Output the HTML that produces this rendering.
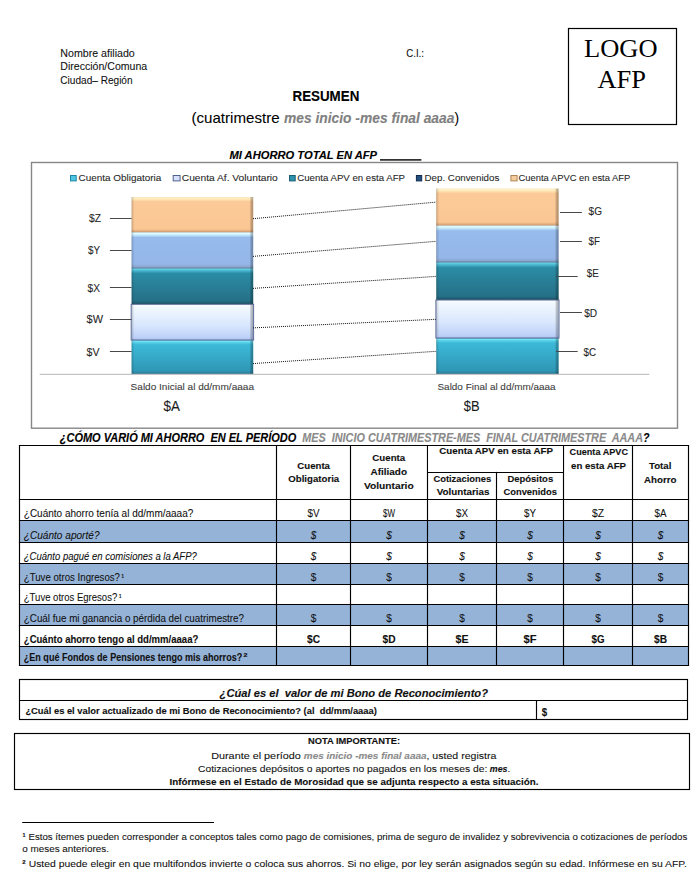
<!DOCTYPE html>
<html lang="es"><head><meta charset="utf-8"><title>Resumen AFP</title>
<style>
html,body{margin:0;padding:0;background:#fff;}
body{width:700px;height:885px;overflow:hidden;}
svg{display:block;font-family:"Liberation Sans", sans-serif;}
text{white-space:pre;}
</style></head><body>
<svg width="700" height="885" viewBox="0 0 700 885">
<defs>
<linearGradient id="gOr" x1="0" y1="0" x2="0" y2="1"><stop offset="0" stop-color="#f4dcb4"/><stop offset="0.025" stop-color="#fff0c6"/><stop offset="0.07" stop-color="#ffe4b4"/><stop offset="0.13" stop-color="#fcca98"/><stop offset="0.9" stop-color="#fac794"/><stop offset="0.96" stop-color="#e3ad7e"/><stop offset="1" stop-color="#b98b64"/></linearGradient>
<linearGradient id="gBl" x1="0" y1="0" x2="0" y2="1"><stop offset="0" stop-color="#b8e0f4"/><stop offset="0.025" stop-color="#e2fcff"/><stop offset="0.07" stop-color="#c6eafb"/><stop offset="0.14" stop-color="#97bbed"/><stop offset="0.88" stop-color="#94b6e8"/><stop offset="0.95" stop-color="#8ea8d2"/><stop offset="1" stop-color="#5f7fa6"/></linearGradient>
<linearGradient id="gTe" x1="0" y1="0" x2="0" y2="1"><stop offset="0" stop-color="#3a8096"/><stop offset="0.025" stop-color="#5ed0e8"/><stop offset="0.07" stop-color="#48b4ce"/><stop offset="0.14" stop-color="#2b8ca5"/><stop offset="0.9" stop-color="#257087"/><stop offset="0.96" stop-color="#1f5e71"/><stop offset="1" stop-color="#1a4b5b"/></linearGradient>
<linearGradient id="gWh" x1="0" y1="0" x2="0" y2="1"><stop offset="0" stop-color="#fafdff"/><stop offset="0.12" stop-color="#f0f7ff"/><stop offset="0.6" stop-color="#d8e6fd"/><stop offset="0.92" stop-color="#bed2f8"/><stop offset="1" stop-color="#aec2ee"/></linearGradient>
<linearGradient id="gCy" x1="0" y1="0" x2="0" y2="1"><stop offset="0" stop-color="#4a98b8"/><stop offset="0.025" stop-color="#7ef0fb"/><stop offset="0.07" stop-color="#5ad2ea"/><stop offset="0.14" stop-color="#3cb9d8"/><stop offset="0.9" stop-color="#2f97b5"/><stop offset="0.96" stop-color="#2a82a0"/><stop offset="1" stop-color="#226a80"/></linearGradient>
<linearGradient id="gSide" x1="0" y1="0" x2="1" y2="0"><stop offset="0" stop-color="#000" stop-opacity="0.26"/><stop offset="0.009" stop-color="#000" stop-opacity="0.1"/><stop offset="0.025" stop-color="#000" stop-opacity="0"/><stop offset="0.97" stop-color="#000" stop-opacity="0"/><stop offset="0.982" stop-color="#000" stop-opacity="0.2"/><stop offset="1" stop-color="#000" stop-opacity="0.3"/></linearGradient>
</defs>
<text x="60.30" y="57.30" font-size="10.2" fill="#111" stroke="#111" stroke-width="0.08" textLength="74.50" lengthAdjust="spacingAndGlyphs">Nombre afiliado</text>
<text x="60.30" y="70.40" font-size="10.2" fill="#111" stroke="#111" stroke-width="0.08" textLength="86.90" lengthAdjust="spacingAndGlyphs">Dirección/Comuna</text>
<text x="60.30" y="84.00" font-size="10.2" fill="#111" stroke="#111" stroke-width="0.08" textLength="72.30" lengthAdjust="spacingAndGlyphs">Ciudad– Región</text>
<text x="406.20" y="57.00" font-size="10.2" fill="#111" stroke="#111" stroke-width="0.08" textLength="17.80" lengthAdjust="spacingAndGlyphs">C.I.:</text>
<rect x="568.5" y="28.5" width="108" height="96" fill="none" stroke="#000" stroke-width="1.2" />
<text x="584.00" y="56.50" font-size="24.5" font-family="Liberation Serif" textLength="73.50" lengthAdjust="spacingAndGlyphs">LOGO</text>
<text x="597.50" y="87.90" font-size="24.5" font-family="Liberation Serif" textLength="48.50" lengthAdjust="spacingAndGlyphs">AFP</text>
<text x="292.50" y="101.20" font-size="13.8" font-weight="bold" stroke="#000" stroke-width="0.12" textLength="66.80" lengthAdjust="spacingAndGlyphs">RESUMEN</text>
<text x="191.50" y="123.00" font-size="14.6" stroke="#000" stroke-width="0.08" textLength="88.10" lengthAdjust="spacingAndGlyphs">(cuatrimestre</text>
<text x="284.00" y="123.00" font-size="14.6" font-weight="bold" font-style="italic" fill="#808080" stroke="#808080" stroke-width="0.12" textLength="170.40" lengthAdjust="spacingAndGlyphs">mes inicio -mes final aaaa</text>
<text x="454.40" y="123.00" font-size="14.6" stroke="#000" stroke-width="0.08" textLength="4.60" lengthAdjust="spacingAndGlyphs">)</text>
<text x="229.50" y="158.90" font-size="11.0" font-weight="bold" font-style="italic" stroke="#000" stroke-width="0.12" textLength="147.50" lengthAdjust="spacingAndGlyphs">MI AHORRO TOTAL EN AFP</text>
<rect x="380.0" y="159.2" width="41.4" height="1.4" fill="#000" stroke="none" stroke-width="1" />
<rect x="31.5" y="162.5" width="646" height="265.7" fill="#fff" stroke="#878787" stroke-width="1.4" />
<rect x="70.5" y="175.5" width="5.7" height="5.4" fill="#4cc6e2" stroke="#1f86a6" stroke-width="1.0" />
<text x="78.50" y="180.70" font-size="9.6" fill="#262626" stroke="#262626" stroke-width="0.08" textLength="82.80" lengthAdjust="spacingAndGlyphs">Cuenta Obligatoria</text>
<rect x="173.2" y="175.5" width="6.9" height="5.4" fill="#d6e0fc" stroke="#52628c" stroke-width="1.0" />
<text x="181.80" y="180.70" font-size="9.6" fill="#262626" stroke="#262626" stroke-width="0.08" textLength="96.00" lengthAdjust="spacingAndGlyphs">Cuenta Af. Voluntario</text>
<rect x="289.5" y="175.5" width="5.7" height="5.4" fill="#2f92ad" stroke="#1a5f75" stroke-width="1.0" />
<text x="297.20" y="180.70" font-size="9.6" fill="#262626" stroke="#262626" stroke-width="0.08" textLength="107.80" lengthAdjust="spacingAndGlyphs">Cuenta APV en esta AFP</text>
<rect x="416.4" y="175.5" width="5.3" height="5.4" fill="#24507f" stroke="#0f2850" stroke-width="1.0" />
<text x="424.60" y="180.70" font-size="9.6" fill="#262626" stroke="#262626" stroke-width="0.08" textLength="74.70" lengthAdjust="spacingAndGlyphs">Dep. Convenidos</text>
<rect x="510.9" y="175.5" width="6.2" height="5.4" fill="#f6cc9c" stroke="#b08658" stroke-width="1.0" />
<text x="518.50" y="180.70" font-size="9.6" fill="#262626" stroke="#262626" stroke-width="0.08" textLength="111.80" lengthAdjust="spacingAndGlyphs">Cuenta APVC en esta AFP</text>
<rect x="131.6" y="197.0" width="121.6" height="35.5" fill="url(#gOr)" stroke="none" stroke-width="1" />
<rect x="131.6" y="232.5" width="121.6" height="35.80000000000001" fill="url(#gBl)" stroke="none" stroke-width="1" />
<rect x="131.6" y="268.3" width="121.6" height="36.0" fill="url(#gTe)" stroke="none" stroke-width="1" />
<rect x="131.6" y="304.3" width="121.6" height="35.69999999999999" fill="url(#gWh)" stroke="none" stroke-width="1" />
<rect x="131.6" y="340.0" width="121.6" height="34.30000000000001" fill="url(#gCy)" stroke="none" stroke-width="1" />
<rect x="131.6" y="197.0" width="121.6" height="177.3" fill="url(#gSide)" stroke="none" stroke-width="1" />
<rect x="131.2" y="304.3" width="122.39999999999999" height="35.69999999999999" fill="none" stroke="#5a6a98" stroke-width="1.0" />
<rect x="436.3" y="188.6" width="122.30000000000001" height="37.099999999999994" fill="url(#gOr)" stroke="none" stroke-width="1" />
<rect x="436.3" y="225.7" width="122.30000000000001" height="36.60000000000002" fill="url(#gBl)" stroke="none" stroke-width="1" />
<rect x="436.3" y="262.3" width="122.30000000000001" height="37.69999999999999" fill="url(#gTe)" stroke="none" stroke-width="1" />
<rect x="436.3" y="300.0" width="122.30000000000001" height="38.0" fill="url(#gWh)" stroke="none" stroke-width="1" />
<rect x="436.3" y="338.0" width="122.30000000000001" height="36.30000000000001" fill="url(#gCy)" stroke="none" stroke-width="1" />
<rect x="436.3" y="188.6" width="122.30000000000001" height="185.70000000000002" fill="url(#gSide)" stroke="none" stroke-width="1" />
<rect x="435.90000000000003" y="300.0" width="123.10000000000001" height="38.0" fill="none" stroke="#5a6a98" stroke-width="1.0" />
<line x1="39.7" y1="374.4" x2="649.3" y2="374.4" stroke="#c4c4c4" stroke-width="1.2" />
<line x1="253" y1="218.7" x2="436.3" y2="202.1" stroke="#111" stroke-width="1" stroke-dasharray="1 1"/>
<line x1="253" y1="256.4" x2="436.3" y2="241.3" stroke="#111" stroke-width="1" stroke-dasharray="1 1"/>
<line x1="253" y1="288.4" x2="436.3" y2="276.4" stroke="#111" stroke-width="1" stroke-dasharray="1 1"/>
<line x1="253" y1="327.9" x2="436.3" y2="319.3" stroke="#111" stroke-width="1" stroke-dasharray="1 1"/>
<line x1="253" y1="363.6" x2="436.3" y2="351.3" stroke="#111" stroke-width="1" stroke-dasharray="1 1"/>
<line x1="109.9" y1="218.5" x2="131.6" y2="218.5" stroke="#484848" stroke-width="1.0" />
<text x="89.00" y="222.10" font-size="10.3" fill="#262626" stroke="#262626" stroke-width="0.08" textLength="12.00" lengthAdjust="spacingAndGlyphs">$Z</text>
<line x1="109.9" y1="250.5" x2="131.6" y2="250.5" stroke="#484848" stroke-width="1.0" />
<text x="88.00" y="254.40" font-size="10.3" fill="#262626" stroke="#262626" stroke-width="0.08" textLength="12.00" lengthAdjust="spacingAndGlyphs">$Y</text>
<line x1="109.9" y1="287.5" x2="131.6" y2="287.5" stroke="#484848" stroke-width="1.0" />
<text x="87.60" y="291.70" font-size="10.3" fill="#262626" stroke="#262626" stroke-width="0.08" textLength="12.40" lengthAdjust="spacingAndGlyphs">$X</text>
<line x1="109.9" y1="319.5" x2="131.6" y2="319.5" stroke="#484848" stroke-width="1.0" />
<text x="86.60" y="323.40" font-size="10.3" fill="#262626" stroke="#262626" stroke-width="0.08" textLength="16.40" lengthAdjust="spacingAndGlyphs">$W</text>
<line x1="109.9" y1="351.5" x2="131.6" y2="351.5" stroke="#484848" stroke-width="1.0" />
<text x="86.60" y="355.70" font-size="10.3" fill="#262626" stroke="#262626" stroke-width="0.08" textLength="12.90" lengthAdjust="spacingAndGlyphs">$V</text>
<line x1="560.0" y1="212.5" x2="581.9" y2="212.5" stroke="#484848" stroke-width="1.0" />
<text x="588.60" y="214.90" font-size="10.3" fill="#262626" stroke="#262626" stroke-width="0.08" textLength="13.40" lengthAdjust="spacingAndGlyphs">$G</text>
<line x1="560.0" y1="241.5" x2="581.9" y2="241.5" stroke="#484848" stroke-width="1.0" />
<text x="588.50" y="244.80" font-size="10.3" fill="#262626" stroke="#262626" stroke-width="0.08" textLength="11.50" lengthAdjust="spacingAndGlyphs">$F</text>
<line x1="556.0" y1="276.5" x2="577.7" y2="276.5" stroke="#484848" stroke-width="1.0" />
<text x="586.70" y="277.10" font-size="10.3" fill="#262626" stroke="#262626" stroke-width="0.08" textLength="12.00" lengthAdjust="spacingAndGlyphs">$E</text>
<line x1="560.0" y1="312.5" x2="581.9" y2="312.5" stroke="#484848" stroke-width="1.0" />
<text x="584.20" y="316.90" font-size="10.3" fill="#262626" stroke="#262626" stroke-width="0.08" textLength="13.00" lengthAdjust="spacingAndGlyphs">$D</text>
<line x1="556.0" y1="351.5" x2="577.7" y2="351.5" stroke="#484848" stroke-width="1.0" />
<text x="583.60" y="355.90" font-size="10.3" fill="#262626" stroke="#262626" stroke-width="0.08" textLength="12.60" lengthAdjust="spacingAndGlyphs">$C</text>
<text x="130.60" y="390.10" font-size="9.6" fill="#3c3c3c" stroke="#3c3c3c" stroke-width="0.08" textLength="123.40" lengthAdjust="spacingAndGlyphs">Saldo Inicial al dd/mm/aaaa</text>
<text x="437.50" y="390.10" font-size="9.6" fill="#3c3c3c" stroke="#3c3c3c" stroke-width="0.08" textLength="118.00" lengthAdjust="spacingAndGlyphs">Saldo Final al dd/mm/aaaa</text>
<text x="163.60" y="410.80" font-size="15.4" fill="#1a1a1a" stroke="#1a1a1a" stroke-width="0.08" textLength="16.40" lengthAdjust="spacingAndGlyphs">$A</text>
<text x="463.80" y="410.80" font-size="15.4" fill="#1a1a1a" stroke="#1a1a1a" stroke-width="0.08" textLength="15.80" lengthAdjust="spacingAndGlyphs">$B</text>
<text x="59.80" y="441.80" font-size="12.4" font-weight="bold" font-style="italic" stroke="#000" stroke-width="0.12" textLength="236.50" lengthAdjust="spacingAndGlyphs">¿CÓMO VARIÓ MI AHORRO  EN EL PERÍODO</text>
<text x="302.30" y="441.80" font-size="12.4" font-weight="bold" font-style="italic" fill="#8a8a8a" stroke="#8a8a8a" stroke-width="0.12" textLength="340.70" lengthAdjust="spacingAndGlyphs">MES  INICIO CUATRIMESTRE-MES  FINAL CUATRIMESTRE  AAAA</text>
<text x="643.00" y="441.80" font-size="12.4" font-weight="bold" font-style="italic" stroke="#000" stroke-width="0.12" textLength="6.50" lengthAdjust="spacingAndGlyphs">?</text>
<rect x="19.5" y="520.5" width="669.0" height="22.0" fill="#95b3d7" stroke="none" stroke-width="1" />
<rect x="19.5" y="563.5" width="669.0" height="21.0" fill="#95b3d7" stroke="none" stroke-width="1" />
<rect x="19.5" y="604.5" width="669.0" height="21.0" fill="#95b3d7" stroke="none" stroke-width="1" />
<rect x="19.5" y="646.5" width="669.0" height="19.0" fill="#95b3d7" stroke="none" stroke-width="1" />
<line x1="18.925" y1="445.5" x2="689.075" y2="445.5" stroke="#000" stroke-width="1.15" />
<line x1="18.925" y1="499.5" x2="689.075" y2="499.5" stroke="#000" stroke-width="1.15" />
<line x1="18.925" y1="520.5" x2="689.075" y2="520.5" stroke="#000" stroke-width="1.15" />
<line x1="18.925" y1="542.5" x2="689.075" y2="542.5" stroke="#000" stroke-width="1.15" />
<line x1="18.925" y1="563.5" x2="689.075" y2="563.5" stroke="#000" stroke-width="1.15" />
<line x1="18.925" y1="584.5" x2="689.075" y2="584.5" stroke="#000" stroke-width="1.15" />
<line x1="18.925" y1="604.5" x2="689.075" y2="604.5" stroke="#000" stroke-width="1.15" />
<line x1="18.925" y1="625.5" x2="689.075" y2="625.5" stroke="#000" stroke-width="1.15" />
<line x1="18.925" y1="646.5" x2="689.075" y2="646.5" stroke="#000" stroke-width="1.15" />
<line x1="18.925" y1="665.5" x2="689.075" y2="665.5" stroke="#000" stroke-width="1.15" />
<line x1="19.5" y1="445.5" x2="19.5" y2="665.5" stroke="#000" stroke-width="1.15" />
<line x1="276.5" y1="445.5" x2="276.5" y2="665.5" stroke="#000" stroke-width="1.15" />
<line x1="350.5" y1="445.5" x2="350.5" y2="665.5" stroke="#000" stroke-width="1.15" />
<line x1="427.5" y1="445.5" x2="427.5" y2="665.5" stroke="#000" stroke-width="1.15" />
<line x1="496.5" y1="445.5" x2="496.5" y2="665.5" stroke="#000" stroke-width="1.15" />
<line x1="563.5" y1="445.5" x2="563.5" y2="665.5" stroke="#000" stroke-width="1.15" />
<line x1="632.5" y1="445.5" x2="632.5" y2="665.5" stroke="#000" stroke-width="1.15" />
<line x1="688.5" y1="445.5" x2="688.5" y2="665.5" stroke="#000" stroke-width="1.15" />
<rect x="428.1" y="446.1" width="134.8" height="25.8" fill="#fff" stroke="none" stroke-width="1" />
<line x1="427.5" y1="472.5" x2="563.5" y2="472.5" stroke="#000" stroke-width="1.15" />
<text x="297.30" y="468.80" font-size="9.7" font-weight="bold" fill="#111" stroke="#111" stroke-width="0.12" textLength="32.70" lengthAdjust="spacingAndGlyphs">Cuenta</text>
<text x="288.30" y="482.40" font-size="9.7" font-weight="bold" fill="#111" stroke="#111" stroke-width="0.12" textLength="50.90" lengthAdjust="spacingAndGlyphs">Obligatoria</text>
<text x="372.30" y="461.00" font-size="9.7" font-weight="bold" fill="#111" stroke="#111" stroke-width="0.12" textLength="32.90" lengthAdjust="spacingAndGlyphs">Cuenta</text>
<text x="370.50" y="475.20" font-size="9.7" font-weight="bold" fill="#111" stroke="#111" stroke-width="0.12" textLength="36.50" lengthAdjust="spacingAndGlyphs">Afiliado</text>
<text x="364.00" y="488.80" font-size="9.7" font-weight="bold" fill="#111" stroke="#111" stroke-width="0.12" textLength="49.70" lengthAdjust="spacingAndGlyphs">Voluntario</text>
<text x="439.30" y="454.10" font-size="9.7" font-weight="bold" fill="#111" stroke="#111" stroke-width="0.12" textLength="113.60" lengthAdjust="spacingAndGlyphs">Cuenta APV en esta AFP</text>
<text x="433.40" y="481.90" font-size="9.7" font-weight="bold" fill="#111" stroke="#111" stroke-width="0.12" textLength="57.80" lengthAdjust="spacingAndGlyphs">Cotizaciones</text>
<text x="436.70" y="495.30" font-size="9.7" font-weight="bold" fill="#111" stroke="#111" stroke-width="0.12" textLength="52.70" lengthAdjust="spacingAndGlyphs">Voluntarias</text>
<text x="507.40" y="481.90" font-size="9.7" font-weight="bold" fill="#111" stroke="#111" stroke-width="0.12" textLength="45.80" lengthAdjust="spacingAndGlyphs">Depósitos</text>
<text x="503.50" y="495.30" font-size="9.7" font-weight="bold" fill="#111" stroke="#111" stroke-width="0.12" textLength="53.50" lengthAdjust="spacingAndGlyphs">Convenidos</text>
<text x="569.60" y="455.00" font-size="9.7" font-weight="bold" fill="#111" stroke="#111" stroke-width="0.12" textLength="58.40" lengthAdjust="spacingAndGlyphs">Cuenta APVC</text>
<text x="571.00" y="468.60" font-size="9.7" font-weight="bold" fill="#111" stroke="#111" stroke-width="0.12" textLength="55.00" lengthAdjust="spacingAndGlyphs">en esta AFP</text>
<text x="649.00" y="469.00" font-size="9.7" font-weight="bold" fill="#111" stroke="#111" stroke-width="0.12" textLength="22.40" lengthAdjust="spacingAndGlyphs">Total</text>
<text x="644.00" y="482.60" font-size="9.7" font-weight="bold" fill="#111" stroke="#111" stroke-width="0.12" textLength="32.40" lengthAdjust="spacingAndGlyphs">Ahorro</text>
<text x="23.80" y="517.00" font-size="10.2" fill="#111" stroke="#111" stroke-width="0.08" textLength="169.50" lengthAdjust="spacingAndGlyphs">¿Cuánto ahorro tenía al dd/mm/aaaa?</text>
<text x="23.80" y="538.60" font-size="10.2" font-style="italic" fill="#111" stroke="#111" stroke-width="0.08" textLength="75.70" lengthAdjust="spacingAndGlyphs">¿Cuánto aporté?</text>
<text x="23.80" y="560.30" font-size="10.2" font-style="italic" fill="#111" stroke="#111" stroke-width="0.08" textLength="173.00" lengthAdjust="spacingAndGlyphs">¿Cuánto pagué en comisiones a la AFP?</text>
<text x="23.80" y="580.70" font-size="10.2" fill="#111" stroke="#111" stroke-width="0.08" textLength="96.20" lengthAdjust="spacingAndGlyphs">¿Tuve otros Ingresos?</text>
<text x="121.60" y="577.90" font-size="5.6" font-weight="bold" fill="#111" stroke="#111" stroke-width="0.12" textLength="2.40" lengthAdjust="spacingAndGlyphs">1</text>
<text x="23.80" y="600.60" font-size="10.2" fill="#111" stroke="#111" stroke-width="0.08" textLength="93.40" lengthAdjust="spacingAndGlyphs">¿Tuve otros Egresos?</text>
<text x="119.00" y="598.10" font-size="5.6" font-weight="bold" fill="#111" stroke="#111" stroke-width="0.12" textLength="2.40" lengthAdjust="spacingAndGlyphs">1</text>
<text x="23.80" y="621.90" font-size="10.2" fill="#111" stroke="#111" stroke-width="0.08" textLength="220.20" lengthAdjust="spacingAndGlyphs">¿Cuál fue mi ganancia o pérdida del cuatrimestre?</text>
<text x="23.80" y="642.90" font-size="10.2" font-weight="bold" fill="#111" stroke="#111" stroke-width="0.12" textLength="174.50" lengthAdjust="spacingAndGlyphs">¿Cuánto ahorro tengo al dd/mm/aaaa?</text>
<text x="23.80" y="660.80" font-size="10.2" font-weight="bold" fill="#111" stroke="#111" stroke-width="0.12" textLength="218.40" lengthAdjust="spacingAndGlyphs">¿En qué Fondos de Pensiones tengo mis ahorros?</text>
<text x="243.60" y="657.20" font-size="6.0" font-weight="bold" fill="#111" stroke="#111" stroke-width="0.12" textLength="4.00" lengthAdjust="spacingAndGlyphs">2</text>
<text x="307.50" y="517.20" font-size="10.2" fill="#111" stroke="#111" stroke-width="0.08" textLength="12.00" lengthAdjust="spacingAndGlyphs">$V</text>
<text x="383.00" y="517.20" font-size="10.2" fill="#111" stroke="#111" stroke-width="0.08" textLength="12.00" lengthAdjust="spacingAndGlyphs">$W</text>
<text x="456.00" y="517.20" font-size="10.2" fill="#111" stroke="#111" stroke-width="0.08" textLength="12.00" lengthAdjust="spacingAndGlyphs">$X</text>
<text x="524.00" y="517.20" font-size="10.2" fill="#111" stroke="#111" stroke-width="0.08" textLength="12.00" lengthAdjust="spacingAndGlyphs">$Y</text>
<text x="592.00" y="517.20" font-size="10.2" fill="#111" stroke="#111" stroke-width="0.08" textLength="12.00" lengthAdjust="spacingAndGlyphs">$Z</text>
<text x="654.50" y="517.20" font-size="10.2" fill="#111" stroke="#111" stroke-width="0.08" textLength="12.00" lengthAdjust="spacingAndGlyphs">$A</text>
<text x="310.70" y="538.60" font-size="10.2" font-style="italic" fill="#111" stroke="#111" stroke-width="0.08" textLength="5.60" lengthAdjust="spacingAndGlyphs">$</text>
<text x="386.20" y="538.60" font-size="10.2" font-style="italic" fill="#111" stroke="#111" stroke-width="0.08" textLength="5.60" lengthAdjust="spacingAndGlyphs">$</text>
<text x="459.20" y="538.60" font-size="10.2" font-style="italic" fill="#111" stroke="#111" stroke-width="0.08" textLength="5.60" lengthAdjust="spacingAndGlyphs">$</text>
<text x="527.20" y="538.60" font-size="10.2" font-style="italic" fill="#111" stroke="#111" stroke-width="0.08" textLength="5.60" lengthAdjust="spacingAndGlyphs">$</text>
<text x="595.20" y="538.60" font-size="10.2" font-style="italic" fill="#111" stroke="#111" stroke-width="0.08" textLength="5.60" lengthAdjust="spacingAndGlyphs">$</text>
<text x="657.70" y="538.60" font-size="10.2" font-style="italic" fill="#111" stroke="#111" stroke-width="0.08" textLength="5.60" lengthAdjust="spacingAndGlyphs">$</text>
<text x="310.70" y="560.30" font-size="10.2" font-style="italic" fill="#111" stroke="#111" stroke-width="0.08" textLength="5.60" lengthAdjust="spacingAndGlyphs">$</text>
<text x="386.20" y="560.30" font-size="10.2" font-style="italic" fill="#111" stroke="#111" stroke-width="0.08" textLength="5.60" lengthAdjust="spacingAndGlyphs">$</text>
<text x="459.20" y="560.30" font-size="10.2" font-style="italic" fill="#111" stroke="#111" stroke-width="0.08" textLength="5.60" lengthAdjust="spacingAndGlyphs">$</text>
<text x="527.20" y="560.30" font-size="10.2" font-style="italic" fill="#111" stroke="#111" stroke-width="0.08" textLength="5.60" lengthAdjust="spacingAndGlyphs">$</text>
<text x="595.20" y="560.30" font-size="10.2" font-style="italic" fill="#111" stroke="#111" stroke-width="0.08" textLength="5.60" lengthAdjust="spacingAndGlyphs">$</text>
<text x="657.70" y="560.30" font-size="10.2" font-style="italic" fill="#111" stroke="#111" stroke-width="0.08" textLength="5.60" lengthAdjust="spacingAndGlyphs">$</text>
<text x="310.70" y="580.70" font-size="10.2" fill="#111" stroke="#111" stroke-width="0.08" textLength="5.60" lengthAdjust="spacingAndGlyphs">$</text>
<text x="386.20" y="580.70" font-size="10.2" fill="#111" stroke="#111" stroke-width="0.08" textLength="5.60" lengthAdjust="spacingAndGlyphs">$</text>
<text x="459.20" y="580.70" font-size="10.2" fill="#111" stroke="#111" stroke-width="0.08" textLength="5.60" lengthAdjust="spacingAndGlyphs">$</text>
<text x="527.20" y="580.70" font-size="10.2" fill="#111" stroke="#111" stroke-width="0.08" textLength="5.60" lengthAdjust="spacingAndGlyphs">$</text>
<text x="595.20" y="580.70" font-size="10.2" fill="#111" stroke="#111" stroke-width="0.08" textLength="5.60" lengthAdjust="spacingAndGlyphs">$</text>
<text x="657.70" y="580.70" font-size="10.2" fill="#111" stroke="#111" stroke-width="0.08" textLength="5.60" lengthAdjust="spacingAndGlyphs">$</text>
<text x="310.70" y="621.90" font-size="10.2" fill="#111" stroke="#111" stroke-width="0.08" textLength="5.60" lengthAdjust="spacingAndGlyphs">$</text>
<text x="386.20" y="621.90" font-size="10.2" fill="#111" stroke="#111" stroke-width="0.08" textLength="5.60" lengthAdjust="spacingAndGlyphs">$</text>
<text x="459.20" y="621.90" font-size="10.2" fill="#111" stroke="#111" stroke-width="0.08" textLength="5.60" lengthAdjust="spacingAndGlyphs">$</text>
<text x="527.20" y="621.90" font-size="10.2" fill="#111" stroke="#111" stroke-width="0.08" textLength="5.60" lengthAdjust="spacingAndGlyphs">$</text>
<text x="595.20" y="621.90" font-size="10.2" fill="#111" stroke="#111" stroke-width="0.08" textLength="5.60" lengthAdjust="spacingAndGlyphs">$</text>
<text x="657.70" y="621.90" font-size="10.2" fill="#111" stroke="#111" stroke-width="0.08" textLength="5.60" lengthAdjust="spacingAndGlyphs">$</text>
<text x="307.00" y="642.90" font-size="10.2" font-weight="bold" fill="#111" stroke="#111" stroke-width="0.12" textLength="13.00" lengthAdjust="spacingAndGlyphs">$C</text>
<text x="382.50" y="642.90" font-size="10.2" font-weight="bold" fill="#111" stroke="#111" stroke-width="0.12" textLength="13.00" lengthAdjust="spacingAndGlyphs">$D</text>
<text x="455.50" y="642.90" font-size="10.2" font-weight="bold" fill="#111" stroke="#111" stroke-width="0.12" textLength="13.00" lengthAdjust="spacingAndGlyphs">$E</text>
<text x="523.50" y="642.90" font-size="10.2" font-weight="bold" fill="#111" stroke="#111" stroke-width="0.12" textLength="13.00" lengthAdjust="spacingAndGlyphs">$F</text>
<text x="591.50" y="642.90" font-size="10.2" font-weight="bold" fill="#111" stroke="#111" stroke-width="0.12" textLength="13.00" lengthAdjust="spacingAndGlyphs">$G</text>
<text x="654.00" y="642.90" font-size="10.2" font-weight="bold" fill="#111" stroke="#111" stroke-width="0.12" textLength="13.00" lengthAdjust="spacingAndGlyphs">$B</text>
<rect x="19.5" y="679.5" width="668" height="40" fill="none" stroke="#000" stroke-width="1.15" />
<line x1="19.5" y1="700.5" x2="687.5" y2="700.5" stroke="#000" stroke-width="1.15" />
<line x1="536.5" y1="700.5" x2="536.5" y2="719.5" stroke="#000" stroke-width="1.15" />
<text x="219.60" y="697.40" font-size="11.0" font-weight="bold" font-style="italic" fill="#111" stroke="#111" stroke-width="0.12" textLength="268.40" lengthAdjust="spacingAndGlyphs">¿Cúal es el  valor de mi Bono de Reconocimiento?</text>
<text x="25.40" y="713.60" font-size="9.9" font-weight="bold" fill="#111" stroke="#111" stroke-width="0.12" textLength="351.40" lengthAdjust="spacingAndGlyphs">¿Cuál es el valor actualizado de mi Bono de Reconocimiento? (al  dd/mm/aaaa)</text>
<text x="541.80" y="716.30" font-size="10.0" font-weight="bold" fill="#111" stroke="#111" stroke-width="0.12" textLength="5.40" lengthAdjust="spacingAndGlyphs">$</text>
<rect x="14.5" y="733.5" width="675" height="56" fill="none" stroke="#000" stroke-width="1.15" />
<text x="308.00" y="744.10" font-size="9.2" font-weight="bold" fill="#111" stroke="#111" stroke-width="0.12" textLength="92.00" lengthAdjust="spacingAndGlyphs">NOTA IMPORTANTE:</text>
<text x="211.20" y="759.00" font-size="9.6" fill="#111" stroke="#111" stroke-width="0.08" textLength="89.60" lengthAdjust="spacingAndGlyphs">Durante el período</text>
<text x="303.80" y="759.00" font-size="9.6" font-weight="bold" font-style="italic" fill="#8c8c8c" stroke="#8c8c8c" stroke-width="0.12" textLength="122.70" lengthAdjust="spacingAndGlyphs">mes inicio -mes final aaaa</text>
<text x="426.50" y="759.00" font-size="9.6" fill="#111" stroke="#111" stroke-width="0.08" textLength="69.90" lengthAdjust="spacingAndGlyphs">, usted registra</text>
<text x="198.00" y="771.50" font-size="9.6" fill="#111" stroke="#111" stroke-width="0.08" textLength="289.30" lengthAdjust="spacingAndGlyphs">Cotizaciones depósitos o aportes no pagados en los meses de:</text>
<text x="489.80" y="771.50" font-size="9.6" font-weight="bold" font-style="italic" fill="#111" stroke="#111" stroke-width="0.12" textLength="17.70" lengthAdjust="spacingAndGlyphs">mes</text>
<text x="507.50" y="771.50" font-size="9.6" fill="#111" stroke="#111" stroke-width="0.08" textLength="2.80" lengthAdjust="spacingAndGlyphs">.</text>
<text x="169.50" y="784.60" font-size="9.6" font-weight="bold" fill="#111" stroke="#111" stroke-width="0.12" textLength="369.00" lengthAdjust="spacingAndGlyphs">Infórmese en el Estado de Morosidad que se adjunta respecto a esta situación.</text>
<line x1="22.2" y1="822.5" x2="214.0" y2="822.5" stroke="#000" stroke-width="1.1" />
<text x="22.40" y="837.30" font-size="5.6" font-weight="bold" fill="#111" stroke="#111" stroke-width="0.12" textLength="3.00" lengthAdjust="spacingAndGlyphs">1</text>
<text x="28.50" y="839.50" font-size="9.1" fill="#111" stroke="#111" stroke-width="0.08" textLength="658.80" lengthAdjust="spacingAndGlyphs">Estos ítemes pueden corresponder a conceptos tales como pago de comisiones, prima de seguro de invalidez y sobrevivencia o cotizaciones de períodos</text>
<text x="22.30" y="852.30" font-size="9.1" fill="#111" stroke="#111" stroke-width="0.08" textLength="86.70" lengthAdjust="spacingAndGlyphs">o meses anteriores.</text>
<text x="22.20" y="864.20" font-size="5.8" font-weight="bold" fill="#111" stroke="#111" stroke-width="0.12" textLength="3.40" lengthAdjust="spacingAndGlyphs">2</text>
<text x="28.70" y="866.70" font-size="9.1" fill="#111" stroke="#111" stroke-width="0.08" textLength="658.10" lengthAdjust="spacingAndGlyphs">Usted puede elegir en que multifondos invierte o coloca sus ahorros. Si no elige, por ley serán asignados según su edad. Infórmese en su AFP.</text>
</svg>
</body></html>
